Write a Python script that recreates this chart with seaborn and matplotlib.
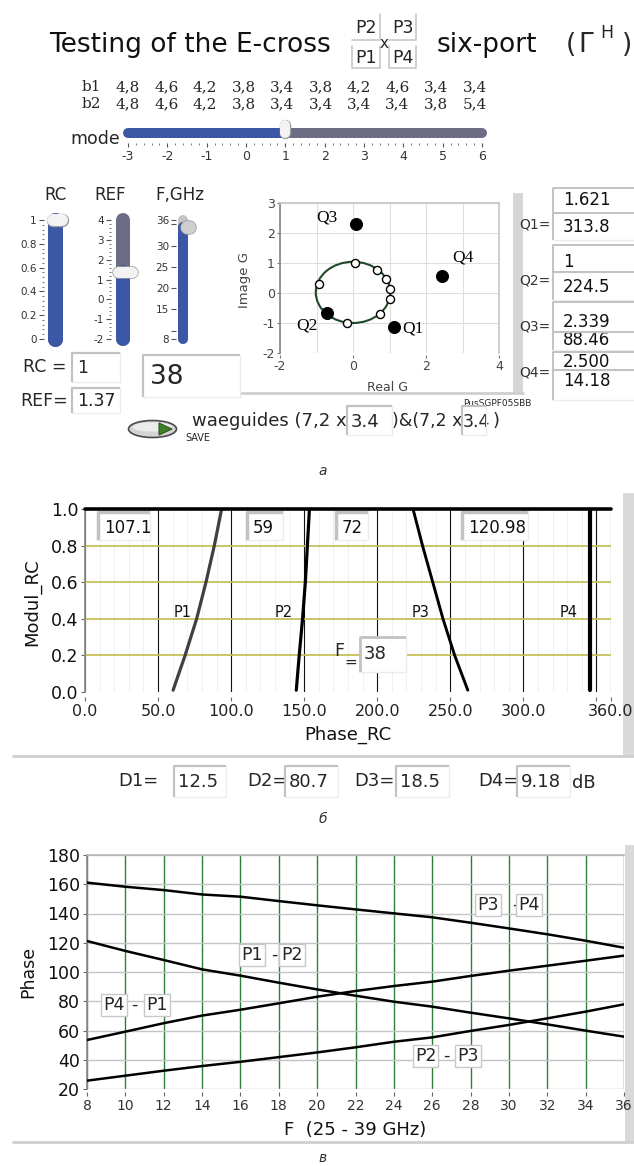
import matplotlib
matplotlib.use("Agg")
import matplotlib.pyplot as plt
import numpy as np
import pandas as pd
import seaborn as sns
from matplotlib.patches import Rectangle, Circle, Ellipse, Polygon

# ---------------- data ----------------
title_left = "Testing of the E-cross"
title_right = "six-port"
fraction_top = ["P2", "P3"]
fraction_bottom = ["P1", "P4"]

b_row_names = ["b1", "b2"]
b1_values = ["4,8", "4,6", "4,2", "3,8", "3,4", "3,8", "4,2", "4,6", "3,4", "3,4"]
b2_values = ["4,8", "4,6", "4,2", "3,8", "3,4", "3,4", "3,4", "3,4", "3,8", "5,4"]

mode_ticks = [-3, -2, -1, 0, 1, 2, 3, 4, 5, 6]
mode_value = 1

rc_ticks = [0, 0.2, 0.4, 0.6, 0.8, 1]
rc_tick_labels = ["0", "0.2", "0.4", "0.6", "0.8", "1"]
rc_value = 1
ref_ticks = [-2, -1, 0, 1, 2, 3, 4]
ref_tick_labels = ["-2", "-1", "0", "1", "2", "3", "4"]
ref_value = 1.37
f_ticks = [8, 10, 15, 20, 25, 30, 35, 36]
f_tick_labels = ["8", "", "15", "20", "25", "30", "", "36"]
f_slider_value = 34.4
rc_text = "1"
ref_text = "1.37"
f_text = "38"

q_names = ["Q1", "Q2", "Q3", "Q4"]
q_real = [1.13, -0.72, 0.08, 2.45]
q_imag = [-1.14, -0.68, 2.30, 0.58]
q_modul_text = ["1.621", "1", "2.339", "2.500"]
q_phase_text = ["313.8", "224.5", "88.46", "14.18"]
ring_real = [0.05, 0.65, 0.90, 1.01, 1.01, 0.74, -0.17, -0.92]
ring_imag = [0.99, 0.77, 0.47, 0.12, -0.21, -0.70, -1.01, 0.30]
ring_center = (0.0, 0.02)
ring_radius = 1.02
scatter_xticks = [-2, 0, 2, 4]
scatter_yticks = [-2, -1, 0, 1, 2, 3]
waveguide_b = ["3.4", "3.4"]

# middle chart (Modul_RC vs Phase_RC)
modul_rc = [0.01, 0.2, 0.4, 0.6, 0.8, 1.0]
phase_p1 = [60.3, 68.5, 76.4, 82.8, 88.5, 93.5]
phase_p2 = [144.6, 146.6, 148.9, 150.8, 152.2, 153.6]
phase_p3 = [262.0, 253.0, 245.0, 238.0, 231.0, 224.5]
phase_p4 = [345.6, 345.6, 345.6, 345.6, 345.6, 345.6]
port_names = ["P1", "P2", "P3", "P4"]
top_numbers = ["107.1", "59", "72", "120.98"]
phase_ticks = [0, 50, 100, 150, 200, 250, 300, 350, 360]
phase_tick_labels = ["0.0", "50.0", "100.0", "150.0", "200.0", "250.0", "300.0", "", "360.0"]
modul_ticks = [0.0, 0.2, 0.4, 0.6, 0.8, 1.0]
modul_tick_labels = ["0.0", "0.2", "0.4", "0.6", "0.8", "1.0"]
f_value_text = "38"
d_names = ["D1=", "D2=", "D3=", "D4="]
d_values = ["12.5", "80.7", "18.5", "9.18"]

# bottom chart (Phase vs F)
freq = [8, 10, 12, 14, 16, 18, 20, 22, 24, 26, 28, 30, 32, 34, 36]
phase_p3_p4 = [161.1, 158.3, 156.0, 153.0, 151.5, 148.5, 145.6, 142.8, 140.1, 137.4, 133.7, 129.8, 125.8, 121.4, 116.6]
phase_p1_p2 = [121.2, 114.4, 108.2, 101.8, 97.5, 92.7, 88.1, 83.8, 79.7, 76.3, 72.2, 68.3, 64.2, 59.9, 55.8]
phase_p4_p1 = [53.5, 59.2, 65.0, 70.2, 74.2, 78.6, 83.1, 87.0, 90.4, 93.4, 97.3, 100.9, 104.3, 107.7, 111.2]
phase_p2_p3 = [25.7, 29.1, 32.5, 35.7, 38.6, 41.8, 45.0, 48.5, 52.3, 55.3, 59.7, 63.8, 68.3, 72.9, 77.9]
pair_names = ["P3-P4", "P1-P2", "P4-P1", "P2-P3"]
freq_ticks = list(range(8, 37, 2))
phase_ticks_b = [20, 40, 60, 80, 100, 120, 140, 160, 180]

# ---------------- style ----------------
sns.set_theme(style="white")
plt.rcParams['font.family'] = ['DejaVu Sans']
plt.rcParams['axes.unicode_minus'] = False

W, H = 634, 1166
PT = 72.0 / 100.0  # points per pixel
fig = plt.figure(figsize=(W / 100, H / 100), dpi=100)
fig.patch.set_facecolor('white')

BLUE = '#3b57a6'
SLATE = '#6c6c84'
LGRAY = '#c4c4c4'


def px_axes(x0, y0, x1, y1, **kw):
    return fig.add_axes([x0 / W, 1 - y1 / H, (x1 - x0) / W, (y1 - y0) / H], **kw)


def sunken(ax, xl, xr, yb, yt, lw_dark=1.6, z=3):
    ax.add_patch(Rectangle((xl, min(yb, yt)), xr - xl, abs(yt - yb), facecolor='white',
                           edgecolor='none', zorder=z, clip_on=False))
    ax.plot([xl, xl, xr], [yb, yt, yt], color='#c2c2c2', lw=lw_dark, zorder=z + 0.1,
            clip_on=False, solid_capstyle='butt')
    ax.plot([xr, xr, xl], [yt, yb, yb], color='#ececec', lw=1.0, zorder=z + 0.1, clip_on=False)


# ---------------- background frame pieces ----------------
bg = fig.add_axes([0, 0, 1, 1], zorder=-5)
bg.set_xlim(0, W)
bg.set_ylim(H, 0)
bg.axis('off')
bg.add_patch(Rectangle((513, 193), 10, 200, facecolor='#d6d6d6', edgecolor='none'))
bg.plot([236, 523], [393, 393], color='#cfcfcf', lw=2)
bg.add_patch(Rectangle((623, 493), 11, 263, facecolor='#d9d9d9', edgecolor='none'))
bg.plot([13, 634], [756, 756], color='#cfcfcf', lw=2)
bg.add_patch(Rectangle((625, 845), 9, 297, facecolor='#d9d9d9', edgecolor='none'))
bg.plot([13, 634], [1142, 1142], color='#cfcfcf', lw=2)

# ---------------- mode slider ----------------
axm = px_axes(128, 128, 482, 137)
axm.set_xlim(-3, 6)
axm.set_ylim(0, 1)
axm.patch.set_visible(False)
axm.plot([mode_value, mode_ticks[-1]], [0.5, 0.5], color=SLATE, lw=10 * PT,
         solid_capstyle='round', clip_on=False)
axm.plot([mode_ticks[0], mode_value], [0.5, 0.5], color=BLUE, lw=10 * PT,
         solid_capstyle='round', clip_on=False)
axm.plot([mode_value, mode_value], [0.44, 1.33], color='#9a9a9a', lw=11.5 * PT,
         solid_capstyle='round', clip_on=False)
axm.plot([mode_value, mode_value], [0.44, 1.33], color='#f3f3f3', lw=10 * PT,
         solid_capstyle='round', clip_on=False)
for s in ['left', 'right', 'top']:
    axm.spines[s].set_visible(False)
axm.spines['bottom'].set_position(('outward', 6 * PT))
axm.spines['bottom'].set_visible(False)
axm.set_xticks(mode_ticks)
axm.set_xticklabels([str(t) for t in mode_ticks])
axm.set_xticks(np.arange(-3, 6.01, 0.2), minor=True)
axm.set_yticks([])
axm.tick_params(axis='x', which='major', bottom=True, length=4 * PT, width=0.8, color='#555555',
                labelsize=9, pad=2, labelcolor='#333333')
axm.tick_params(axis='x', which='minor', bottom=True, length=2.5 * PT, width=0.7, color='#777777')


# ---------------- vertical sliders ----------------
def vslider(x0, x1, bar_off, bar_w, vmin, vmax, value, ticks, labels, minor, low_col, high_col,
            th_x0, th_x1, th_h, th_col):
    ax = px_axes(x0, 220, x1, 339)
    ax.set_xlim(0, x1 - x0)
    ax.set_ylim(vmin, vmax)
    ax.patch.set_visible(False)
    ax.plot([bar_off, bar_off], [vmin, vmax], color=high_col, lw=bar_w * PT,
            solid_capstyle='round', clip_on=False)
    ax.plot([bar_off, bar_off], [vmin, value], color=low_col, lw=bar_w * PT,
            solid_capstyle='round', clip_on=False)
    r = th_h / 2.0
    ax.plot([th_x0 + r, th_x1 - r], [value, value], color='#9c9c9c', lw=(th_h + 1.5) * PT,
            solid_capstyle='round', clip_on=False)
    ax.plot([th_x0 + r, th_x1 - r], [value, value], color=th_col, lw=th_h * PT,
            solid_capstyle='round', clip_on=False)
    for s in ax.spines.values():
        s.set_visible(False)
    ax.set_xticks([])
    ax.set_yticks(ticks)
    ax.set_yticklabels(labels)
    if minor is not None:
        ax.set_yticks(minor, minor=True)
    ax.tick_params(axis='y', which='major', left=True, length=5 * PT, width=0.8, color='#555555',
                   labelsize=7.5, pad=1.5, labelcolor='#333333')
    ax.tick_params(axis='y', which='minor', left=True, length=2.5 * PT, width=0.7, color='#777777')
    return ax


vslider(44, 70, 10.5, 15, 0, 1, rc_value, rc_ticks, rc_tick_labels,
        np.arange(0, 1.001, 0.04), BLUE, SLATE, 3, 24, 12, '#f3f3f3')
vslider(111, 140, 12, 14, -2, 4, ref_value, ref_ticks, ref_tick_labels,
        np.arange(-2, 4.001, 0.2), BLUE, SLATE, 1, 26, 11, '#f3f3f3')
vslider(176, 198, 7, 10, 8, 36, f_slider_value, f_ticks, f_tick_labels,
        None, BLUE, LGRAY, 4, 19, 13, '#cfcfcf')

# ---------------- scatter (Image G vs Real G) ----------------
ax1 = px_axes(280, 203, 499, 353)
ax1.set_facecolor('white')
ax1.set_xlim(-2, 4)
ax1.set_ylim(-2, 3)
ax1.set_xticks(scatter_xticks)
ax1.set_yticks(scatter_yticks)
ax1.set_xticks([-1, 1, 3], minor=True)
ax1.grid(True, which='both', color='#dedede', lw=0.8)
for s in ['top', 'right']:
    ax1.spines[s].set_color('#c8c8c8')
ax1.spines['left'].set_color('#8a8a8a')
ax1.spines['bottom'].set_visible(False)
ax1.spines['bottom'].set_position(('outward', 2 * PT))
ax1.tick_params(axis='both', which='major', length=3 * PT, width=0.8, color='#777777',
                labelsize=9, pad=1.5, labelcolor='#444444', left=True, bottom=True)
ax1.tick_params(axis='x', which='minor', length=0)
ax1.add_patch(Circle(ring_center, ring_radius, fill=False, ec='#1f4a2a', lw=1.5, zorder=3))
df_ring = pd.DataFrame({'re': ring_real, 'im': ring_imag})
sns.scatterplot(data=df_ring, x='re', y='im', color='white', edgecolor='black', s=34,
                linewidth=1.0, ax=ax1, zorder=4, legend=False)
df_q = pd.DataFrame({'name': q_names, 're': q_real, 'im': q_imag})
sns.scatterplot(data=df_q, x='re', y='im', color='black', edgecolor='black', s=75,
                ax=ax1, zorder=5, legend=False)
q_label_dx = [0.50, -0.55, -0.79, 0.55]
q_label_dy = [-0.03, -0.39, 0.23, 0.60]
for n, xr_, yi, dx, dy in zip(q_names, q_real, q_imag, q_label_dx, q_label_dy):
    ax1.text(xr_ + dx, yi + dy, n, fontsize=12.5, family='Liberation Serif', ha='center',
             va='center', color='black', zorder=6)
ax1.set_xlabel("Real G", fontsize=9, color='#444444')
ax1.set_ylabel("Image G", fontsize=9.5, color='#444444')
ax1.xaxis.set_label_coords(0.49, -0.233)
ax1.xaxis.label.set_va('center')
ax1.yaxis.set_label_coords(-0.16, 0.487)
ax1.yaxis.label.set_va('center')

# ---------------- middle chart ----------------
ax2 = px_axes(85, 509, 611, 692)
ax2.set_facecolor('white')
ax2.set_xlim(0, 360)
ax2.set_ylim(0, 1)
ax2.set_xticks(phase_ticks)
ax2.set_xticklabels(phase_tick_labels)
ax2.set_xticks(np.arange(10, 360, 10), minor=True)
ax2.set_yticks(modul_ticks)
ax2.set_yticklabels(modul_tick_labels)
ax2.grid(axis='x', which='minor', color='#f1f1f1', lw=0.8)
ax2.grid(axis='x', which='major', color='#111111', lw=0.8)
ax2.hlines(modul_ticks[1:-1], 0, 360, color='#c6c05a', lw=1.3, zorder=1.5)
ax2.axhline(1.0, color='black', lw=2.6, clip_on=False, zorder=6)
for s in ['top', 'right']:
    ax2.spines[s].set_visible(False)
ax2.spines['left'].set_color('#8a8a8a')
ax2.spines['bottom'].set_visible(False)
ax2.spines['bottom'].set_position(('outward', 5 * PT))
ax2.tick_params(axis='x', which='major', bottom=True, length=4 * PT, width=0.8, color='#666666',
                labelsize=11.5, pad=2, labelcolor='#222222')
ax2.tick_params(axis='x', which='minor', bottom=False)
ax2.tick_params(axis='y', which='major', left=True, length=4 * PT, width=0.8, color='#666666',
                labelsize=12.5, pad=2, labelcolor='#111111')

df_mid = pd.DataFrame({
    'port': np.repeat(port_names, len(modul_rc)),
    'phase': phase_p1 + phase_p2 + phase_p3 + phase_p4,
    'modul': modul_rc * 4,
})
port_style = {'P1': ('#404040', 2.3), 'P2': ('black', 2.3), 'P3': ('black', 2.1), 'P4': ('black', 3.0)}
for p in port_names:
    col, lw = port_style[p]
    sns.lineplot(data=df_mid[df_mid['port'] == p], x='phase', y='modul', sort=False,
                 estimator=None, color=col, lw=lw, ax=ax2, zorder=5, legend=False)
ax2.set_xlabel("Phase_RC", fontsize=13, color='#111111')
ax2.set_ylabel("Modul_RC", fontsize=13, color='#111111')
ax2.xaxis.set_label_coords(0.5, -0.235)
ax2.xaxis.label.set_va('center')
ax2.yaxis.set_label_coords(-0.10, 0.49)
ax2.yaxis.label.set_va('center')

port_label_x = [67, 136, 230, 331]
for p, lx in zip(port_names, port_label_x):
    ax2.text(lx, 0.435, p, fontsize=10.5, ha='center', va='center', color='#111111', zorder=6)

top_box_x = [(9, 44.5), (111, 135.5), (171.5, 194), (258, 303)]
for txt, (bl, br) in zip(top_numbers, top_box_x):
    sunken(ax2, bl, br, 0.83, 0.985, lw_dark=2.5, z=3)
    ax2.text(bl + 4, 0.896, txt, fontsize=12, ha='left', va='center', color='#111111', zorder=4,
             clip_on=True)
ax2.text(174, 0.225, "F", fontsize=12.5, ha='center', va='center', zorder=4)
ax2.text(182, 0.165, "=", fontsize=11, ha='center', va='center', zorder=4)
sunken(ax2, 188, 220, 0.11, 0.30, lw_dark=2.0, z=3)
ax2.text(191, 0.208, f_value_text, fontsize=13, ha='left', va='center', zorder=4)

# ---------------- bottom chart ----------------
ax3 = px_axes(87, 855, 624, 1089)
ax3.set_facecolor('white')
ax3.set_xlim(8, 36)
ax3.set_ylim(20, 180)
ax3.set_xticks(freq_ticks)
ax3.set_xticklabels([str(t) for t in freq_ticks])
ax3.set_yticks(phase_ticks_b)
ax3.set_yticklabels([str(t) for t in phase_ticks_b])
ax3.grid(axis='x', color='#2f7d3b', lw=1.0)
ax3.grid(axis='y', color='#c4c4c4', lw=1.0)
ax3.spines['left'].set_color('#8a8a8a')
ax3.spines['top'].set_color('#b8b8b8')
ax3.spines['right'].set_visible(False)
ax3.spines['bottom'].set_visible(False)
ax3.spines['bottom'].set_position(('outward', 3 * PT))
ax3.tick_params(axis='x', bottom=True, length=4 * PT, width=0.8, color='#666666',
                labelsize=10, pad=2, labelcolor='#333333')
ax3.tick_params(axis='y', left=True, length=4 * PT, width=0.8, color='#666666',
                labelsize=12.5, pad=2, labelcolor='#111111')
df_b = pd.DataFrame({
    'pair': np.repeat(pair_names, len(freq)),
    'F': freq * 4,
    'phase': phase_p3_p4 + phase_p1_p2 + phase_p4_p1 + phase_p2_p3,
})
sns.lineplot(data=df_b, x='F', y='phase', units='pair', estimator=None, color='black', lw=1.8,
             ax=ax3, zorder=4, legend=False)
ax3.set_xlabel("F  (25 - 39 GHz)", fontsize=13, color='#111111')
ax3.set_ylabel("Phase", fontsize=12.5, color='#111111')
ax3.xaxis.set_label_coords(0.5, -0.175)
ax3.xaxis.label.set_va('center')
ax3.yaxis.set_label_coords(-0.11, 0.5)
ax3.yaxis.label.set_va('center')

bb = dict(boxstyle='square,pad=0.12', fc='white', ec='#c8c8c8', lw=1.0)
pair_labels = [  # (left, right, x_left, x_dash, x_right, y)
    ("P4", "P1", 9.4, 10.45, 11.65, 77.7),
    ("P1", "P2", 16.6, 17.75, 18.7, 111.5),
    ("P3", "P4", 28.9, 30.35, 31.05, 145.8),
    ("P2", "P3", 25.65, 26.75, 27.85, 42.6),
]
for a, b, xa, xd, xb, yy in pair_labels:
    ax3.text(xa, yy, a, fontsize=12.5, ha='center', va='center', bbox=bb, zorder=6)
    ax3.text(xd, yy, "-", fontsize=12.5, ha='center', va='center', zorder=6)
    ax3.text(xb, yy, b, fontsize=12.5, ha='center', va='center', bbox=bb, zorder=6)

# ---------------- overlay (panel texts and indicators) ----------------
ov = fig.add_axes([0, 0, 1, 1], zorder=20)
ov.set_xlim(0, W)
ov.set_ylim(H, 0)
ov.axis('off')
ov.patch.set_visible(False)


def T(x, y, s, size, ha='left', va='center', **kw):
    ov.text(x, y, s, fontsize=size, ha=ha, va=va, **kw)


# title
T(49, 52, title_left, 19, va='baseline', color='#111111')
for (xl, xr_), s in zip([(352, 380), (389, 416)], fraction_top):
    ov.plot([xr_, xr_, xl], [14, 40, 40], color='#c8c8c8', lw=1.2)
    T((xl + xr_) / 2, 28, s, 12.5, ha='center')
for (xl, xr_), s in zip([(352, 380), (389, 416)], fraction_bottom):
    ov.plot([xl, xl, xr_, xr_], [46, 68, 68, 46], color='#c8c8c8', lw=1.2)
    T((xl + xr_) / 2, 58, s, 12.5, ha='center')
T(384, 43, "x", 11, ha='center')
T(437, 52, title_right, 19, va='baseline', color='#111111')
T(566, 52, "(", 19, va='baseline')
T(578, 52, "Γ", 19, va='baseline')
T(600, 38, "H", 12.5, va='baseline')
T(622, 52, ")", 19, va='baseline')

# b rows
b_col_x = [128 + 38.5 * i for i in range(len(b1_values))]
for row_y, name, vals in zip([87, 104], b_row_names, [b1_values, b2_values]):
    T(82, row_y, name, 11, family='DejaVu Serif')
    for cx, v in zip(b_col_x, vals):
        T(cx, row_y, v, 11, ha='center', family='DejaVu Serif')

T(70, 139, "mode", 12.5)

# slider labels
T(55, 195, "RC", 12, ha='center')
T(110, 195, "REF", 12, ha='center')
T(180, 195, "F,GHz", 12, ha='center')

# RC / REF / F indicators
T(23, 367, "RC =", 12.5)
sunken(ov, 72, 120, 382, 353)
T(77, 368, rc_text, 12.5)
T(20, 401, "REF=", 12.5)
sunken(ov, 72, 120, 413, 388)
T(77, 401, ref_text, 12.5, color='#222222')
sunken(ov, 143, 240, 397, 355)
T(150, 377, f_text, 19)

# right Q indicators
q_rows = [((188, 213, 240), (200, 227), 225), ((245, 272, 300), (262, 287), 280),
          ((302, 332, 350), (322, 340), 327), ((352, 370, 400), (362, 381), 373)]
for (ya, ym, yb), (t1, t2), ylab, n, m, ph in zip(
        [r[0] for r in q_rows], [r[1] for r in q_rows], [r[2] for r in q_rows],
        q_names, q_modul_text, q_phase_text):
    T(551, ylab, n + "=", 10, ha='right', color='#333333')
    sunken(ov, 553, 640, ym, ya, lw_dark=1.4)
    sunken(ov, 553, 640, yb, ym, lw_dark=1.4)
    T(563, t1, m, 12, color='#111111')
    T(563, t2, ph, 12, color='#111111')

# waveguides row
ov.add_patch(Ellipse((152.5, 429), 48, 17, facecolor='#d4d4d4', edgecolor='#4a4a4a', lw=1.2))
ov.add_patch(Ellipse((152.5, 427), 40, 9, facecolor='#ececec', edgecolor='none'))
ov.add_patch(Polygon([(159, 423), (159, 435), (172, 429)], closed=True, facecolor='#3f7f2a',
                     edgecolor='#2b5a1c', lw=0.8))
T(185, 438, "SAVE", 7)
T(192, 421, "waeguides (7,2 x", 13)
sunken(ov, 347, 392, 435, 406)
T(351, 422, waveguide_b[0], 13)
T(392, 421, ")&(7,2 x", 12.5)
sunken(ov, 462, 486, 435, 406)
T(463, 422, waveguide_b[1], 12.5)
T(493, 421, ")", 13)
T(463, 404, "PusSGPF05SBB", 6.5)
T(323, 471, "а", 10, ha='center', style='italic', color='#333333')

# D row
d_layout = [(118, 174, 226), (247, 285, 338), (354, 396, 449), (478, 517, 570)]
for (xn, bl, br), n, v in zip(d_layout, d_names, d_values):
    T(xn, 781, n, 13)
    sunken(ov, bl, br, 797, 766)
    T(bl + 4, 782, v, 13)
T(572, 783, "dB", 13)
T(323, 819, "б", 10, ha='center', style='italic', color='#333333')

T(323, 1158, "в", 10, ha='center', style='italic', color='#333333')

fig.savefig("out.png", dpi=100, facecolor='white')
